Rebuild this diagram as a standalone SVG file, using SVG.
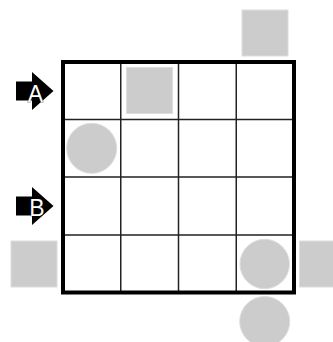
<svg xmlns="http://www.w3.org/2000/svg" width="333" height="342" viewBox="0 0 333 342">
<style>
.g{fill:#cccccc;stroke:#dddddd;stroke-width:1}
.thin{stroke:#222;stroke-width:1.5;fill:none}
.arrow{fill:#000}
.lbl{font-family:"Liberation Sans",Arial,sans-serif;font-size:23px;fill:#fff;stroke:#000;stroke-width:0.6;paint-order:stroke;text-anchor:middle}
</style>
<rect width="333" height="342" fill="#fff"/>
<g id="grid">
<path class="thin" d="M120.75 62V292.5M178.5 62V292.5M236.25 62V292.5M63 119.5H294M63 177H294M63 235H294"/>
<rect x="63" y="62" width="231" height="230.5" fill="none" stroke="#000" stroke-width="4"/>
</g>
<g id="pieces">
<rect id="sq-top" class="g" x="242" y="10" width="46" height="46"/>
<rect id="sq-inner" class="g" x="126.5" y="67.5" width="46" height="46"/>
<circle id="c1" class="g" cx="91.7" cy="148.3" r="25"/>
<circle id="c2" class="g" cx="264.7" cy="264" r="24.7"/>
<circle id="c3" class="g" cx="264.7" cy="321.5" r="25"/>
<rect id="sq-left" class="g" x="11" y="241" width="46" height="46"/>
<rect id="sq-right" class="g" x="299.5" y="241" width="46" height="46"/>
</g>
<g id="arrowA">
<path class="arrow" d="M16 81.5H32V72L53.5 91L32 110V100.5H16Z"/>
<text class="lbl" x="35.5" y="101.5">A</text>
</g>
<g id="arrowB">
<path class="arrow" d="M16 196.5H32V187L53.5 206L32 225V215.5H16Z"/>
<text class="lbl" x="37" y="215.5">B</text>
</g>
</svg>
